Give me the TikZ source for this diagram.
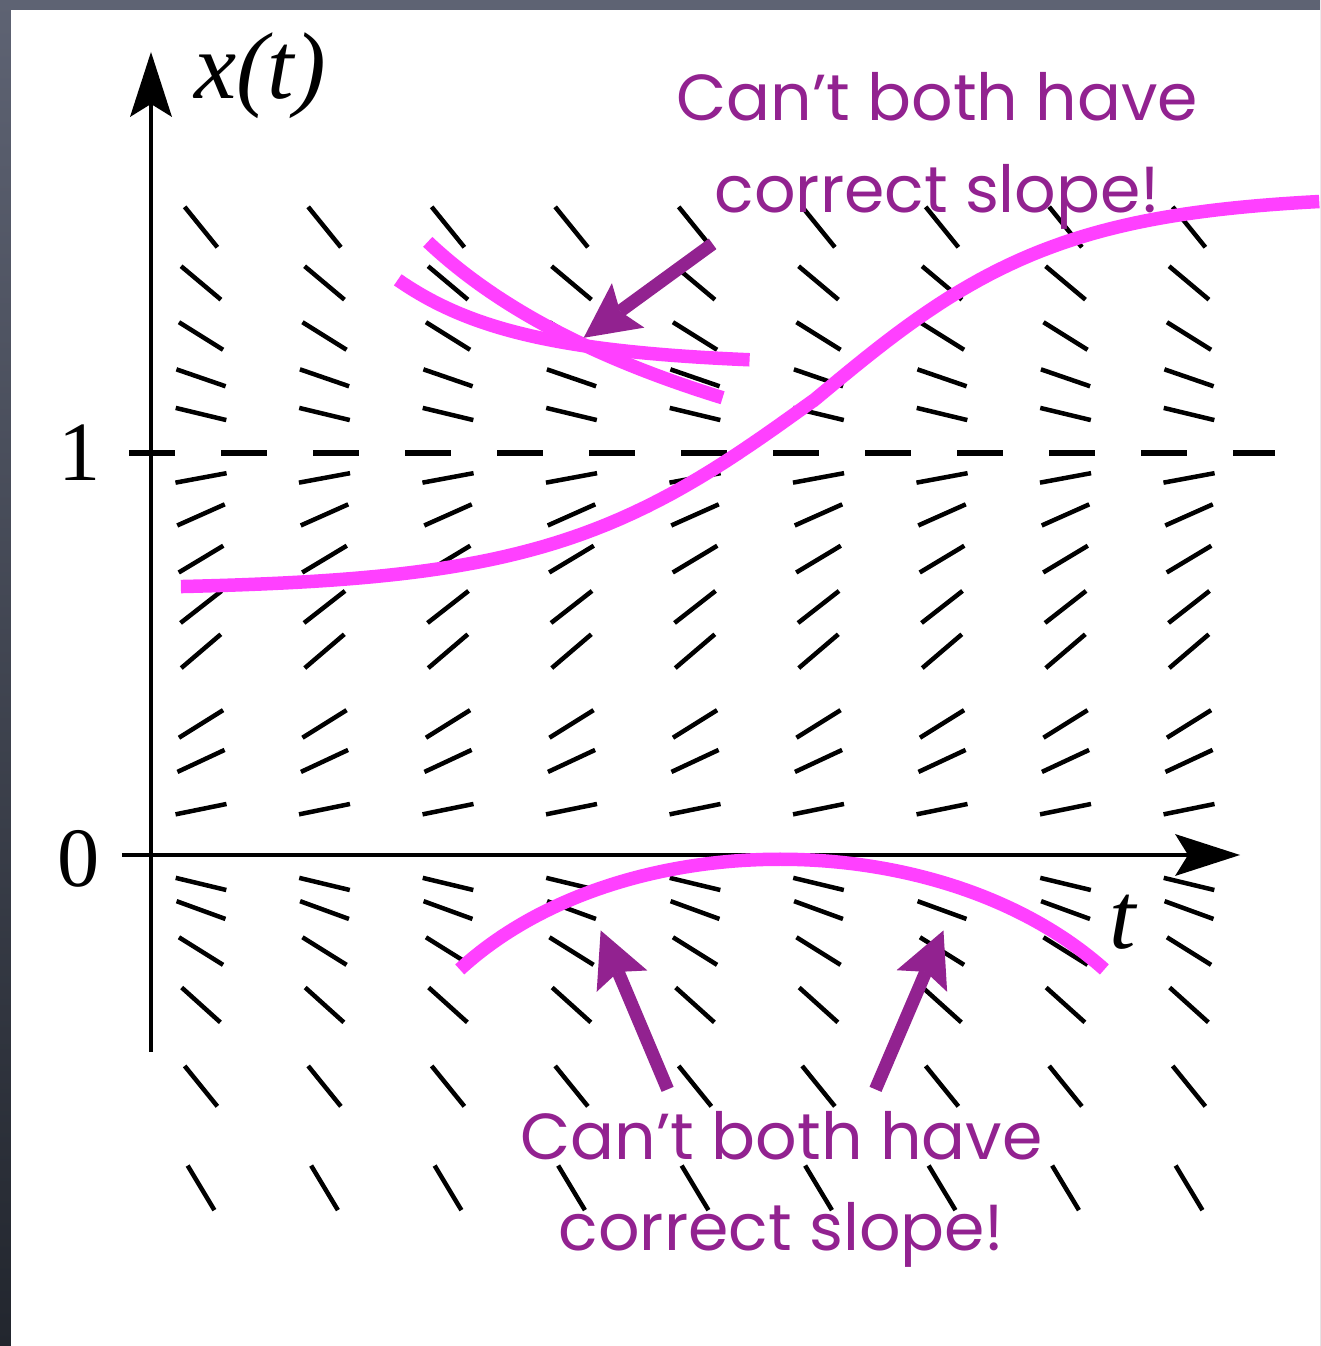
\documentclass[tikz,border=0pt]{standalone}
\usepackage{fontspec}
\setmainfont{Liberation Serif}
\newfontfamily\notefont{Poppins}
\usetikzlibrary{arrows.meta}
\definecolor{solpink}{HTML}{FF40FF}
\definecolor{notepurple}{HTML}{922290}
\definecolor{slidetop}{HTML}{5E6373}
\definecolor{slidebot}{HTML}{22262E}

\begin{document}
\begin{tikzpicture}[x=1.235cm,y=4.02cm,
    axis/.style={line width=0.45mm,-{Stealth[length=6.5mm,width=4.2mm,inset=1.3mm,line width=0pt]}},
    level/.style={line width=0.6mm,dash pattern=on 4.6mm off 4.6mm},
    slope/.style={line width=0.45mm},
    sol/.style={line width=1.35mm,draw=solpink},
    pointer/.style={line width=1.3mm,draw=notepurple,-{Stealth[length=5.5mm,width=5.5mm,inset=1mm,line width=0pt]}},
    numlbl/.style={font=\fontsize{24}{24}\selectfont,inner sep=0pt},
    var/.style={font=\itshape\fontsize{27}{27}\selectfont,inner sep=0pt},
    note/.style={text=notepurple,font=\notefont\fontsize{18.5}{26}\selectfont,align=center,inner sep=0pt},
    px/.style={shift={(-1.51cm,8.55cm)},x=0.01cm,y=-0.01cm}]
\useasboundingbox (-1.51cm,-4.91cm) rectangle (11.69cm,8.55cm);
% slide frame
\shade[top color=slidetop,bottom color=slidebot] (-1.51cm,-4.91cm) rectangle (11.69cm,8.55cm);
\fill[white] (-1.40cm,-4.91cm) rectangle (11.69cm,8.45cm);
% slope field, x' depends on x only
\foreach \xv/\ang in {1.562/-51,1.423/-40,1.291/-32,1.187/-19,1.097/-13.5,
    0.938/10.5,0.846/24,0.736/31,0.617/38,0.507/40.5,0.326/32,0.234/25,0.114/11.5,
    -0.072/-13.5,-0.137/-20,-0.239/-32,-0.373/-42,-0.575/-51,-0.828/-59}
  \foreach \tv in {0,...,8}
    \draw[slope] (\tv+0.405,\xv) ++(\ang+180:0.26cm) -- ++(\ang:0.52cm);
% axes
\draw[axis] (0,-0.49) -- (0,1.9975);
\draw[axis] (-0.235,0) -- (8.818,0);
\draw[level] (-0.178,1) -- (9.101,1);
\node[numlbl] (one) at (-0.575,1.0) {1};
\node[numlbl] (zero) at (-0.583,-0.01) {0};
\node[var] (xlab) at (0.883,1.938) {x(t)};
\node[var] (tlab) at (7.870,-0.167) {t};
\begin{scope}[px]
% solution curves
\draw[sol] plot[domain=181:815,samples=50] (\x,{400+190*tanh((815-\x)/264)})
    -- plot[domain=815:1320,samples=50] (\x,{400-205*tanh((\x-815)/246)});
\draw[sol] (428,242) .. controls (500,310) and (600,360) .. (723,398);
\draw[sol] (398,280) .. controls (470,330) and (560,352) .. (750,360);
\draw[sol] (460,970) .. controls (620,823) and (940,823) .. (1105,970);
% annotations
\coordinate (crossing) at (584,338);
\coordinate (topfrom) at (713,244);
\coordinate (leftslope) at (601,931);
\coordinate (rightslope) at (944,931);
\coordinate (leftfrom) at (668,1090);
\coordinate (rightfrom) at (876,1090);
\draw[pointer] (topfrom) -- (crossing);
\draw[pointer] (leftfrom) -- (leftslope);
\draw[pointer] (rightfrom) -- (rightslope);
\node[note] (topnote) at (938,151) {Can’t both have\\correct slope!};
\node[note] (botnote) at (782,1190) {Can’t both have\\correct slope!};
\end{scope}
\end{tikzpicture}
\end{document}
